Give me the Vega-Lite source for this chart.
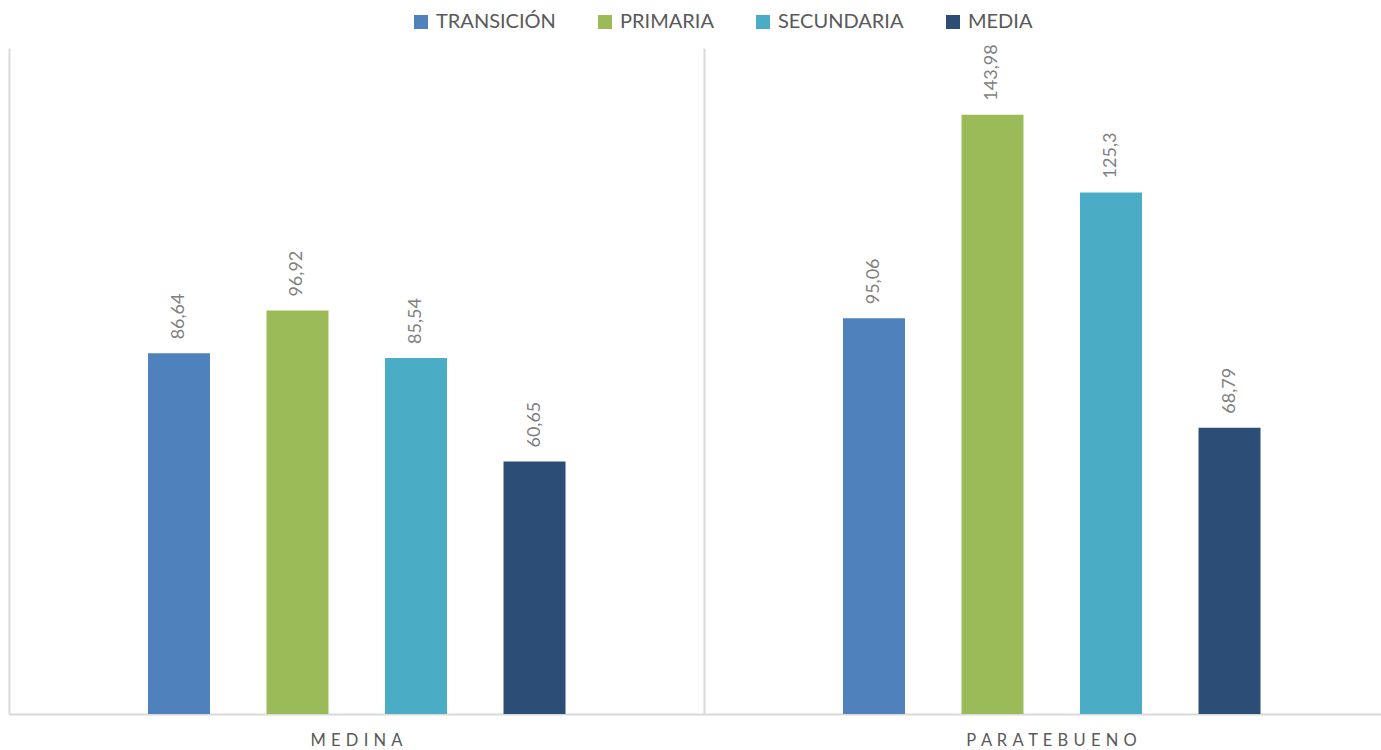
{
  "$schema": "https://vega.github.io/schema/vega-lite/v6.json",
  "width": 1390,
  "height": 666,
  "autosize": {"type": "none"},
  "padding": {"left": 9, "top": 48, "right": 0, "bottom": 36},
  "background": "white",
  "config": {
    "view": {"stroke": null},
    "font": "Lato",
    "locale": {"number": {"decimal": ",", "thousands": ".", "grouping": [3], "currency": ["", ""]}}
  },
  "data": {
    "values": [
      {"municipio": "MEDINA", "nivel": "TRANSICIÓN", "valor": 86.64},
      {"municipio": "MEDINA", "nivel": "PRIMARIA", "valor": 96.92},
      {"municipio": "MEDINA", "nivel": "SECUNDARIA", "valor": 85.54},
      {"municipio": "MEDINA", "nivel": "MEDIA", "valor": 60.65},
      {"municipio": "PARATEBUENO", "nivel": "TRANSICIÓN", "valor": 95.06},
      {"municipio": "PARATEBUENO", "nivel": "PRIMARIA", "valor": 143.98},
      {"municipio": "PARATEBUENO", "nivel": "SECUNDARIA", "valor": 125.3},
      {"municipio": "PARATEBUENO", "nivel": "MEDIA", "valor": 68.79}
    ]
  },
  "encoding": {
    "x": {
      "field": "municipio",
      "type": "nominal",
      "sort": ["MEDINA", "PARATEBUENO"],
      "scale": {"paddingInner": 0, "paddingOuter": 0},
      "axis": {
        "title": null,
        "labelAngle": 0,
        "labelFontSize": 16.5,
        "labelColor": "#595959",
        "labelPadding": 18,
        "labelLimit": 0,
        "labelExpr": "join(split(datum.label, ''), ' \u200a')",
        "ticks": false,
        "domainColor": "#d9d9d9",
        "domainWidth": 2,
        "grid": true,
        "bandPosition": 0,
        "gridColor": "#d9d9d9",
        "gridWidth": 2
      }
    },
    "xOffset": {
      "field": "nivel",
      "type": "nominal",
      "sort": ["TRANSICIÓN", "PRIMARIA", "SECUNDARIA", "MEDIA"],
      "scale": {"paddingInner": 0.477, "paddingOuter": 0, "range": [139, 556.5]}
    },
    "y": {
      "field": "valor",
      "type": "quantitative",
      "scale": {"domain": [0, 160], "nice": false},
      "axis": null
    }
  },
  "layer": [
    {
      "mark": {"type": "bar"},
      "encoding": {
        "color": {
          "field": "nivel",
          "type": "nominal",
          "sort": ["TRANSICIÓN", "PRIMARIA", "SECUNDARIA", "MEDIA"],
          "scale": {
            "domain": ["TRANSICIÓN", "PRIMARIA", "SECUNDARIA", "MEDIA"],
            "range": ["#4f81bd", "#9bbb59", "#4bacc6", "#2c4d75"]
          },
          "legend": {
            "title": null,
            "orient": "none",
            "direction": "horizontal",
            "legendX": 402,
            "legendY": -36,
            "symbolType": "square",
            "symbolSize": 196,
            "symbolStrokeWidth": 0,
            "labelFontSize": 20,
            "labelColor": "#595959",
            "labelOffset": 5,
            "columnPadding": 39,
            "padding": 0
          }
        }
      }
    },
    {
      "mark": {"type": "text", "angle": 270, "align": "left", "baseline": "middle", "dx": 14, "fontSize": 18, "color": "#7f7f7f"},
      "encoding": {
        "text": {"field": "valor", "type": "quantitative", "format": ".2~f"}
      }
    }
  ]
}
